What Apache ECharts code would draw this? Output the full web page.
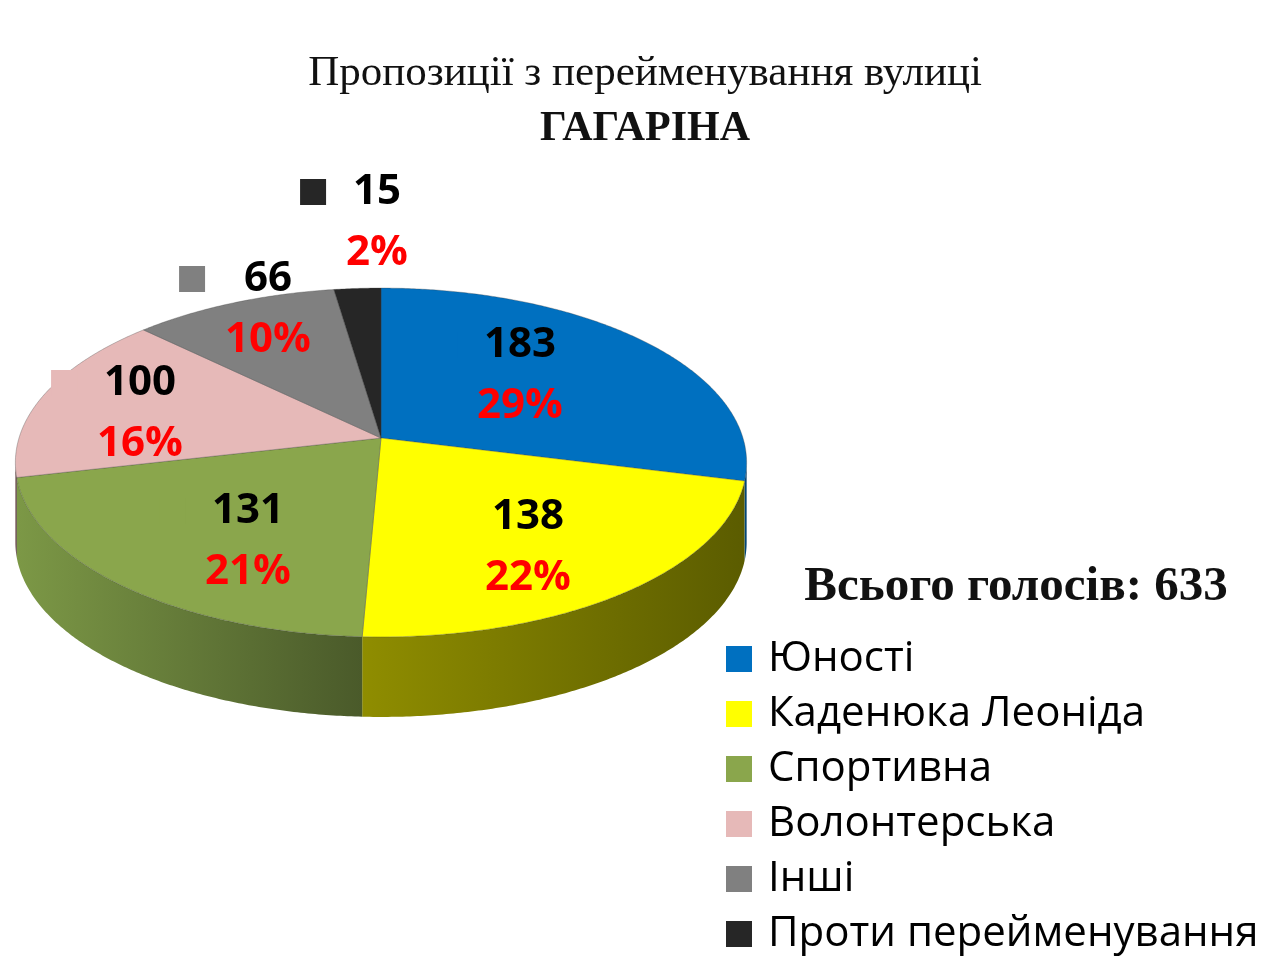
<!DOCTYPE html>
<html style="height: 100%">
<head>
    <meta charset="utf-8">
    <script src="https://cdn.jsdelivr.net/npm/echarts@6.0.0/dist/echarts.min.js"></script>
</head>
<body style="height: 100%; margin: 0; background: #fff">
    <div id="container" style="height: 100%"></div>
    <script type="text/javascript">
        var myChart = echarts.init(document.getElementById('container'));

        // data
        const names = ['Юності', 'Каденюка Леоніда', 'Спортивна', 'Волонтерська', 'Інші', 'Проти перейменування'];
        const votes = [183, 138, 131, 100, 66, 15];

        // colours: top face, side gradient (left -> right)
        const topColors = ['#0070c0', '#ffff00', '#8aa64c', '#e6b9b8', '#808080', '#262626'];
        const sideColors = [
            ['#00508a', '#003a66'],
            ['#8f8d00', '#5b5c00'],
            ['#7c9846', '#4a5a2a'],
            ['#6e4c4c', '#4a3030'],
            ['#555555', '#404040'],
            ['#1a1a1a', '#111111']
        ];

        // pseudo 3d geometry (pixels)
        const CX = 381, CY = 438, A = 362, B = 171, K = 0.1404, DEPTH = 80;
        const SIL = Math.acos(-K) * 180 / Math.PI;   // visible side wall from SIL to 360-SIL

        // label text centres (layout)
        const labelAt = [[520, 375], [528, 547], [248, 541], [140, 413], [268, 309], [377, 222]];

        const total = votes.reduce(function (s, v) { return s + v; }, 0);
        const starts = [];
        votes.reduce(function (acc, v, i) { starts[i] = acc; return acc + v; }, 0);

        const valueFont = 'bold 42px "Open Sans"';
        const measureCtx = document.createElement('canvas').getContext('2d');
        measureCtx.font = valueFont;

        function proj(deg, r) {
            const t = deg * Math.PI / 180;
            const u = r * Math.sin(t), v = -r * Math.cos(t);
            const s = 1 / (1 - K * v);
            return [CX + A * u * s, CY + B * v * s];
        }

        function arc(a0, a1) {
            const pts = [];
            const n = Math.max(2, Math.ceil((a1 - a0) / 0.5));
            for (let i = 0; i <= n; i++) pts.push(proj(a0 + (a1 - a0) * i / n, 1));
            return pts;
        }

        function makeRender(idx) {
            return function (params, api) {
                const val = api.value(0);
                const a0 = starts[idx] / total * 360;
                const a1 = a0 + val / total * 360;
                const children = [];

                // side wall
                const s0 = Math.max(a0, SIL), s1 = Math.min(a1, 360 - SIL);
                if (s1 > s0) {
                    const top = arc(s0, s1);
                    const bottom = top.map(function (p) { return [p[0], p[1] + DEPTH]; }).reverse();
                    children.push({
                        type: 'polygon',
                        shape: { points: top.concat(bottom) },
                        style: {
                            fill: {
                                type: 'linear', x: 0, y: 0, x2: 1, y2: 0,
                                colorStops: [
                                    { offset: 0, color: sideColors[idx][0] },
                                    { offset: 1, color: sideColors[idx][1] }
                                ]
                            }
                        }
                    });
                }

                // top face
                children.push({
                    type: 'polygon',
                    shape: { points: [[CX, CY]].concat(arc(a0, a1)) },
                    style: { fill: topColors[idx], stroke: 'rgba(60,60,60,0.45)', lineWidth: 0.7 }
                });

                // label: key square, value, percent
                const lx = labelAt[idx][0], ly = labelAt[idx][1];
                const valText = String(val);
                const pctText = Math.round(val / total * 100) + '%';
                const w = Math.max(measureCtx.measureText(valText).width, measureCtx.measureText(pctText).width);
                children.push({
                    type: 'rect',
                    shape: { x: lx - w / 2 - 46, y: ly - 30 - 13, width: 26, height: 26 },
                    style: { fill: topColors[idx] }
                });
                children.push({
                    type: 'text',
                    style: {
                        text: valText, x: lx, y: ly - 30, fill: '#000', font: valueFont,
                        textAlign: 'center', textVerticalAlign: 'middle'
                    }
                });
                children.push({
                    type: 'text',
                    style: {
                        text: pctText, x: lx, y: ly + 31, fill: '#ff0000',
                        font: valueFont, textAlign: 'center', textVerticalAlign: 'middle'
                    }
                });
                return { type: 'group', children: children };
            };
        }

        const series = names.map(function (n, i) {
            return {
                name: n,
                type: 'custom',
                coordinateSystem: 'none',
                itemStyle: { color: topColors[i] },
                renderItem: makeRender(i),
                data: [[votes[i]]],
                silent: true,
                animation: false
            };
        });

        option = {
            backgroundColor: '#fff',
            title: [
                {
                    text: 'Пропозиції з перейменування вулиці',
                    subtext: 'ГАГАРІНА',
                    left: 645, top: 52, textAlign: 'center', itemGap: 13, padding: 0,
                    textStyle: { fontFamily: 'Liberation Serif', fontSize: 43, fontWeight: 'normal', color: '#111' },
                    subtextStyle: { fontFamily: 'Liberation Serif', fontSize: 42, fontWeight: 'bold', color: '#111' }
                },
                {
                    text: 'Всього голосів: ' + total,
                    left: 1016, top: 563, textAlign: 'center', padding: 0,
                    textStyle: { fontFamily: 'Liberation Serif', fontSize: 49, fontWeight: 'bold', color: '#111' }
                }
            ],
            legend: {
                data: names,
                orient: 'vertical',
                left: 726, top: 636, height: 330, padding: 0,
                icon: 'rect',
                itemWidth: 26, itemHeight: 26, itemGap: 9,
                selectedMode: false,
                textStyle: { fontFamily: 'Open Sans', fontSize: 42, lineHeight: 46, color: '#000', padding: [0, 0, 0, 11] }
            },
            series: series
        };

        myChart.setOption(option);
        window.addEventListener('resize', function () { myChart.resize(); });
    </script>
</body>
</html>
